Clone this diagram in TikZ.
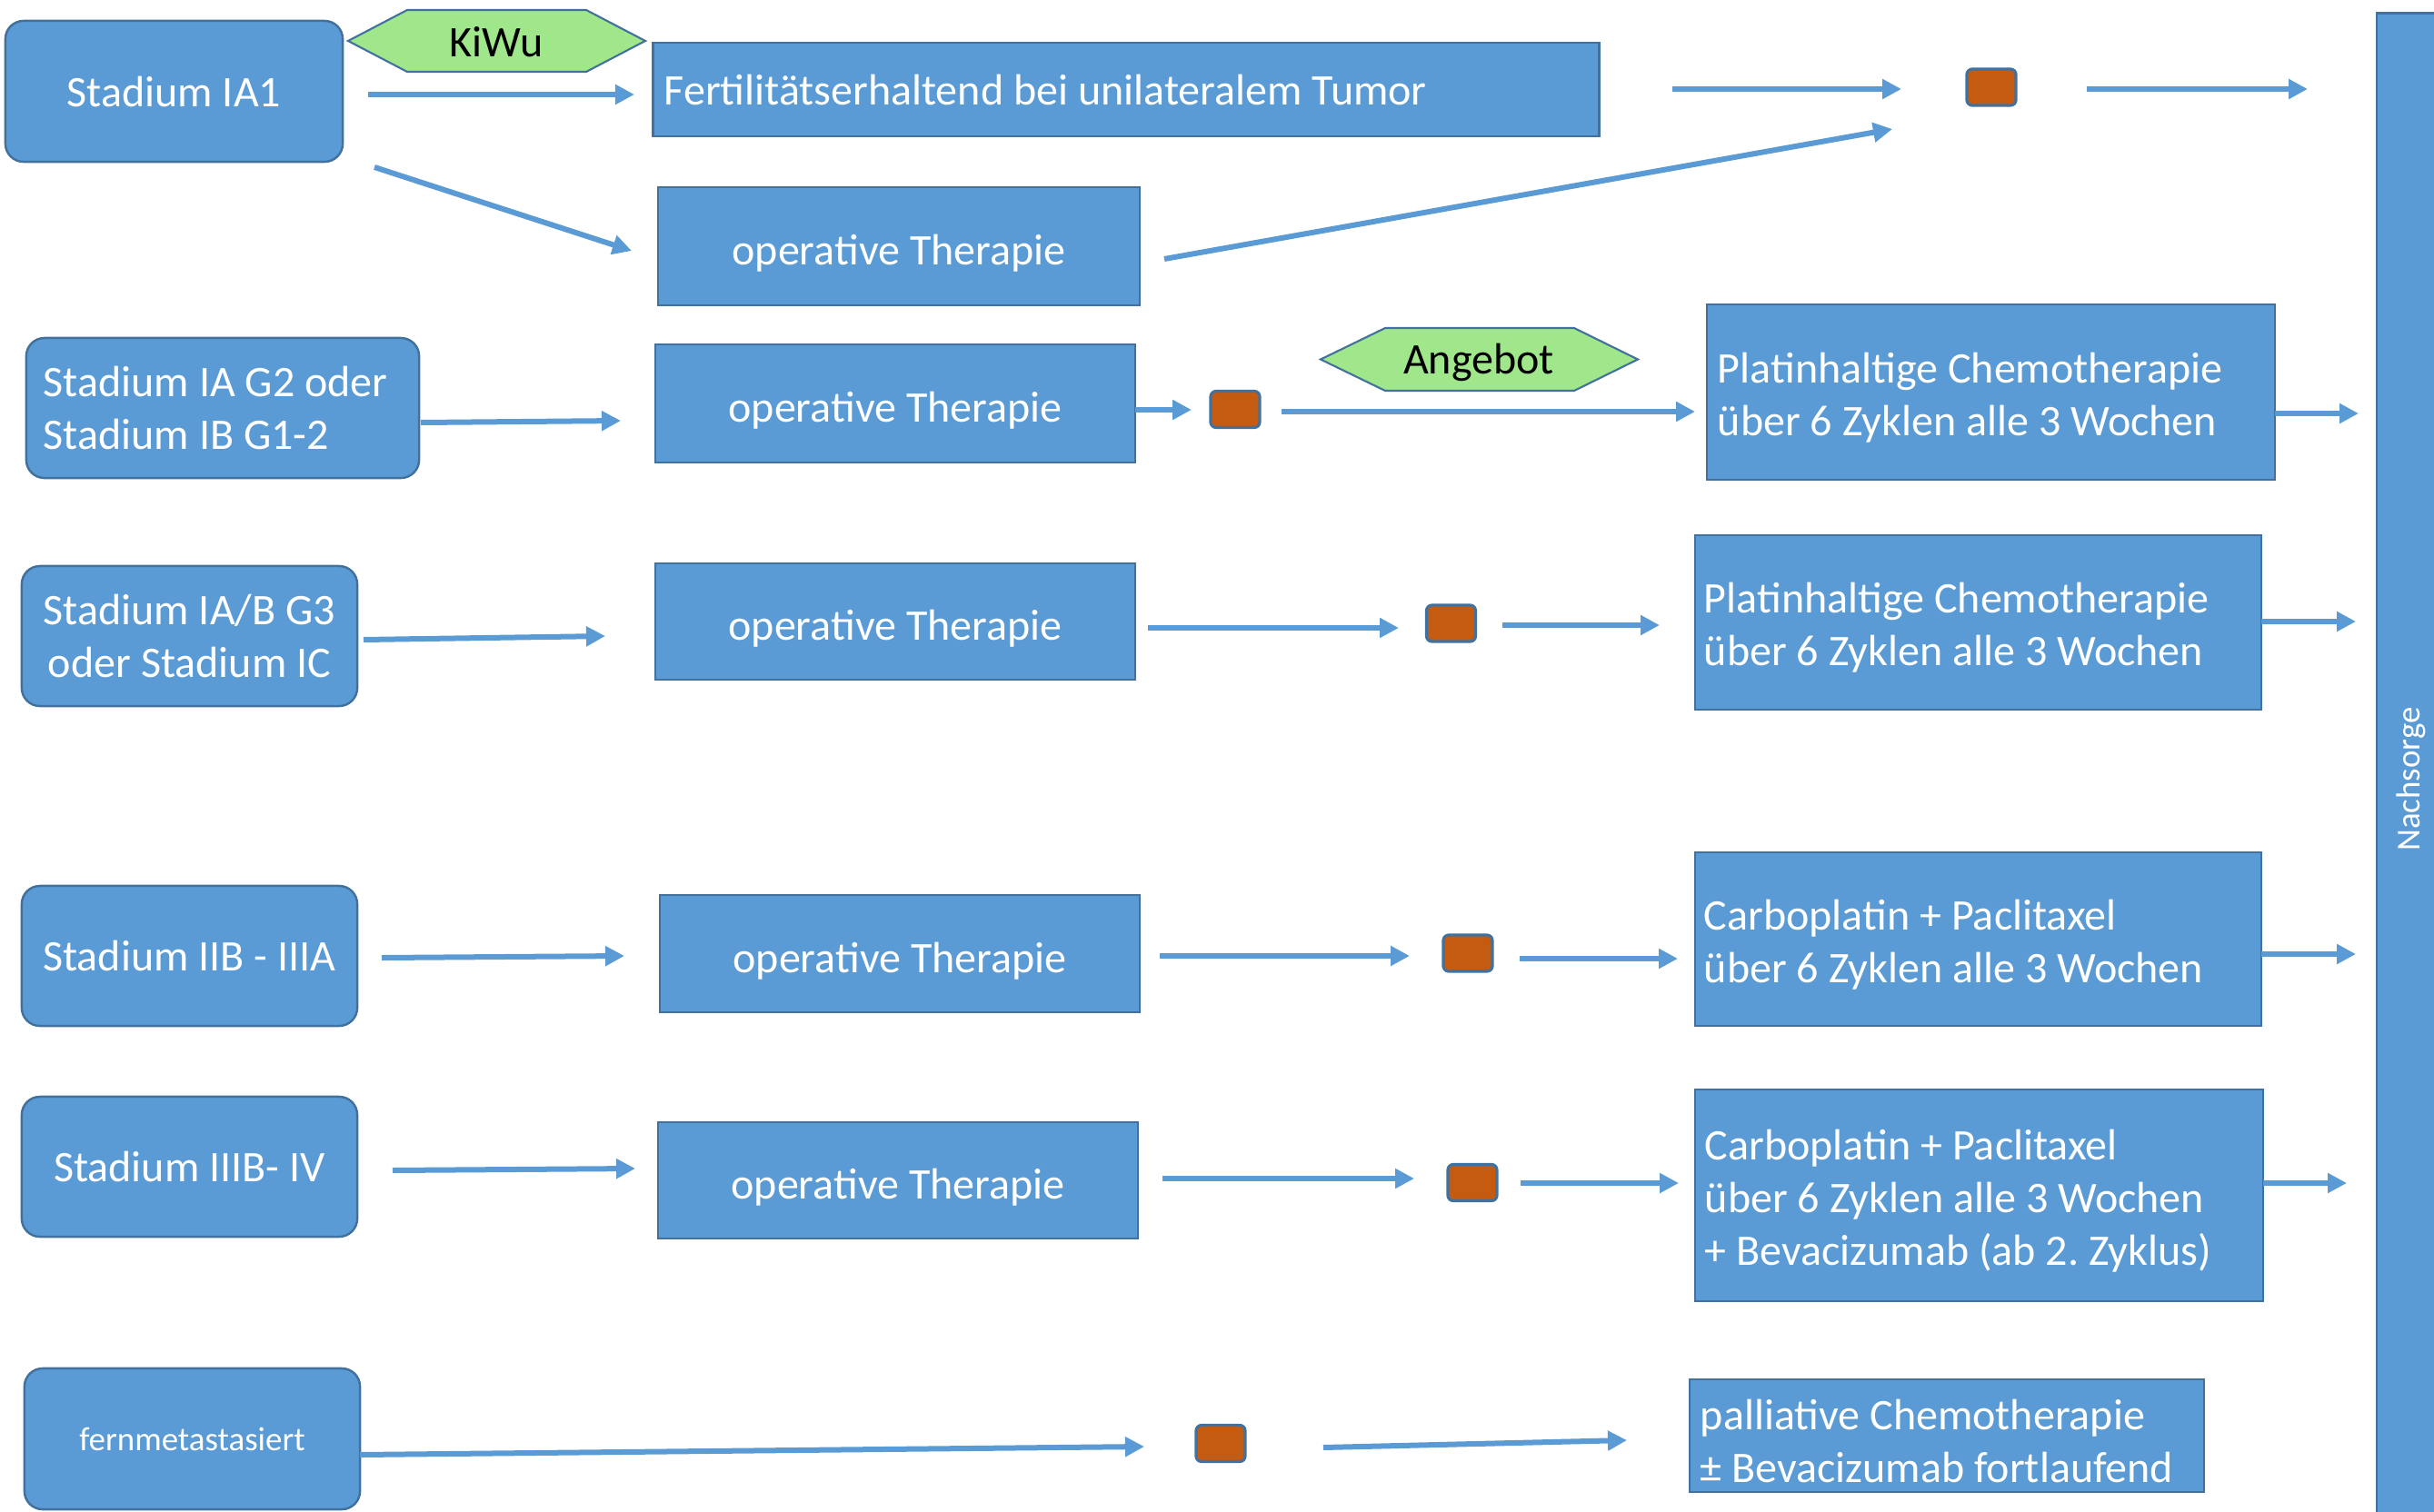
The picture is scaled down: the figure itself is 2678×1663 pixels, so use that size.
\documentclass[tikz,border=0pt]{standalone}
\usepackage{fontspec}
\setmainfont{Carlito}
\usetikzlibrary{arrows.meta,calc}

\definecolor{boxblue}{HTML}{5B9BD5}
\definecolor{edgeblue}{HTML}{41719C}
\definecolor{stoporange}{HTML}{C55A11}
\definecolor{hexgreen}{HTML}{A0E68A}

\newcommand\mainsize{\fontsize{13.66pt}{16.5pt}\selectfont}
\newcommand\smallsize{\fontsize{10.5pt}{12.6pt}\selectfont}

\tikzset{
  base/.style={fill=boxblue, draw=edgeblue, line width=0.7pt, text=white,
    font=\mainsize, inner sep=0pt},
  stadium/.style={base, rounded corners=0.2cm, align=center},
  therapy/.style={base, align=center, text height=0.41cm, text depth=0pt,
    minimum width=5.28cm, minimum height=1.29cm},
  % left-aligned text with the font's natural word spacing
  leftbox/.style={base, align=left,
    execute at begin node={\frenchspacing\spaceskip=0pt\relax}},
  % lower the text block so that descenders do not lift it
  chemobox/.style={leftbox, execute at end node={\par\kern-0.12cm\relax}},
  stopmark/.style={fill=stoporange, draw=edgeblue, line width=0.9pt,
    rounded corners=0.06cm, minimum width=0.54cm, minimum height=0.40cm, inner sep=0pt},
  hexshape/.style={fill=hexgreen, draw=edgeblue, line width=0.6pt, line join=miter},
  hextext/.style={text=black, font=\mainsize, inner sep=0pt},
  flow/.style={draw=boxblue, line width=0.06cm,
    -{Triangle[length=0.21cm,width=0.21cm]}},
}

\begin{document}
\begin{tikzpicture}[x=0.01cm, y=-0.01cm]
\useasboundingbox (0,0) rectangle (2678,1663);
\clip (0,0) rectangle (2678,1663);

% follow-up bar on the right
\node[base, rotate=90, minimum width=16.85cm, minimum height=0.75cm,
  font=\smallsize] (nachsorge) at (2652.5,857.5) {Nachsorge};

% stages
\node[stadium, minimum width=3.71cm, minimum height=1.55cm] (s1) at (191.5,100.5) {Stadium IA1};
\node[stadium, leftbox, text width=3.94cm, inner xsep=0.19cm, minimum height=1.54cm]
  (s2) at (245,449) {Stadium IA G2 oder\\Stadium IB G1-2};
\node[stadium, minimum width=3.69cm, minimum height=1.54cm] (s3) at (208.5,700) {Stadium IA/B G3\\oder Stadium IC};
\node[stadium, minimum width=3.69cm, minimum height=1.54cm] (s4) at (208.5,1052) {Stadium IIB - IIIA};
\node[stadium, minimum width=3.69cm, minimum height=1.54cm] (s5) at (208.5,1284) {Stadium IIIB- IV};
\node[stadium, minimum width=3.69cm, minimum height=1.55cm, font=\smallsize] (s6) at (211.5,1583.5) {fernmetastasiert};

% surgery boxes
\node[therapy, minimum width=5.30cm, minimum height=1.30cm] (op1) at (989,271) {operative Therapie};
\node[therapy, minimum height=1.30cm] (op2) at (985,444) {operative Therapie};
\node[therapy, minimum height=1.28cm] (op3) at (985,684) {operative Therapie};
\node[therapy] (op4) at (990,1049.5) {operative Therapie};
\node[therapy, minimum height=1.28cm] (op5) at (988,1299) {operative Therapie};

% fertility-sparing option
\node[leftbox, text width=10.16cm, inner xsep=0.12cm, minimum height=1.03cm] (fert) at (1239,98.5)
  {Fertilitätserhaltend bei unilateralem Tumor};

% chemotherapy boxes
\node[chemobox, text width=6.01cm, inner xsep=0.12cm, minimum height=1.93cm] (platin1) at (2190.5,431.5)
  {Platinhaltige Chemotherapie\\über 6 Zyklen alle 3 Wochen};
\node[chemobox, text width=6.03cm, inner xsep=0.10cm, minimum height=1.92cm] (platin2) at (2176.5,685)
  {Platinhaltige Chemotherapie\\über 6 Zyklen alle 3 Wochen};
\node[chemobox, text width=6.03cm, inner xsep=0.10cm, minimum height=1.91cm] (carbo1) at (2176.5,1033.5)
  {Carboplatin + Paclitaxel\\über 6 Zyklen alle 3 Wochen};
\node[chemobox, text width=6.03cm, inner xsep=0.11cm, minimum height=2.33cm] (carbo2) at (2177.5,1315.5)
  {Carboplatin + Paclitaxel\\über 6 Zyklen alle 3 Wochen\\+ Bevacizumab (ab 2. Zyklus)};
\node[chemobox, text width=5.42cm, inner xsep=0.12cm, minimum height=1.24cm] (pall) at (2142,1580)
  {palliative Chemotherapie\\± Bevacizumab fortlaufend};

% decision markers
\node[stopmark] (o1) at (2191,96) {};
\node[stopmark] (o2) at (1359,450.5) {};
\node[stopmark] (o3) at (1596.5,686) {};
\node[stopmark] (o4) at (1615,1049) {};
\node[stopmark] (o5) at (1620,1301.5) {};
\node[stopmark] (o6) at (1343,1588.5) {};

% hexagon labels
\path[hexshape] (383,45) -- (448,11) -- (645,11) -- (710,45) -- (645,79) -- (448,79) -- cycle;
\node[hextext, anchor=base] (kiwu) at (546,62) {KiWu};
\path[hexshape] (1453,395.5) -- (1524,361) -- (1732,361) -- (1802,395.5) -- (1732,430) -- (1524,430) -- cycle;
\node[hextext, anchor=base] (angebot) at (1627,411) {Angebot};

% connector end points
\coordinate (s1-a) at (405,104);   \coordinate (fert-in) at (698,104);
\coordinate (s1-b) at (412,184);   \coordinate (op1-in) at (695,276);
\coordinate (fert-out) at (1840,98); \coordinate (o1-in) at (2092,98);
\coordinate (op1-out) at (1281,285); \coordinate (o1-in2) at (2082,142);
\coordinate (o1-out) at (2296,98); \coordinate (n-in1) at (2539,98);

\coordinate (s2-out) at (463,465); \coordinate (op2-in) at (683,463);
\coordinate (op2-out) at (1249,451); \coordinate (o2-in) at (1311,451);
\coordinate (o2-out) at (1410,453); \coordinate (platin1-in) at (1865,453);
\coordinate (platin1-out) at (2503,455); \coordinate (n-in2) at (2595,455);

\coordinate (s3-out) at (400,704); \coordinate (op3-in) at (666,700);
\coordinate (op3-out) at (1263,691); \coordinate (o3-in) at (1539,691);
\coordinate (o3-out) at (1653,688); \coordinate (platin2-in) at (1826,688);
\coordinate (platin2-out) at (2488,684); \coordinate (n-in3) at (2592,684);

\coordinate (s4-out) at (420,1054); \coordinate (op4-in) at (687,1052);
\coordinate (op4-out) at (1276,1052); \coordinate (o4-in) at (1551,1052);
\coordinate (o4-out) at (1672,1055); \coordinate (carbo1-in) at (1846,1055);
\coordinate (carbo1-out) at (2488,1050); \coordinate (n-in4) at (2592,1050);

\coordinate (s5-out) at (432,1288); \coordinate (op5-in) at (699,1286);
\coordinate (op5-out) at (1279,1297); \coordinate (o5-in) at (1556,1297);
\coordinate (o5-out) at (1673,1302); \coordinate (carbo2-in) at (1847,1302);
\coordinate (carbo2-out) at (2490,1302); \coordinate (n-in5) at (2582,1302);

\coordinate (s6-out) at (396,1601); \coordinate (o6-in) at (1259,1592);
\coordinate (o6-out) at (1456,1593); \coordinate (pall-in) at (1790,1585);

% connectors
\draw[flow] (s1-a) -- (fert-in);
\draw[flow] (s1-b) -- (op1-in);
\draw[flow] (fert-out) -- (o1-in);
\draw[flow] (op1-out) -- (o1-in2);
\draw[flow] (o1-out) -- (n-in1);

\draw[flow] (s2-out) -- (op2-in);
\draw[flow] (op2-out) -- (o2-in);
\draw[flow] (o2-out) -- (platin1-in);
\draw[flow] (platin1-out) -- (n-in2);

\draw[flow] (s3-out) -- (op3-in);
\draw[flow] (op3-out) -- (o3-in);
\draw[flow] (o3-out) -- (platin2-in);
\draw[flow] (platin2-out) -- (n-in3);

\draw[flow] (s4-out) -- (op4-in);
\draw[flow] (op4-out) -- (o4-in);
\draw[flow] (o4-out) -- (carbo1-in);
\draw[flow] (carbo1-out) -- (n-in4);

\draw[flow] (s5-out) -- (op5-in);
\draw[flow] (op5-out) -- (o5-in);
\draw[flow] (o5-out) -- (carbo2-in);
\draw[flow] (carbo2-out) -- (n-in5);

\draw[flow] (s6-out) -- (o6-in);
\draw[flow] (o6-out) -- (pall-in);
\end{tikzpicture}
\end{document}
